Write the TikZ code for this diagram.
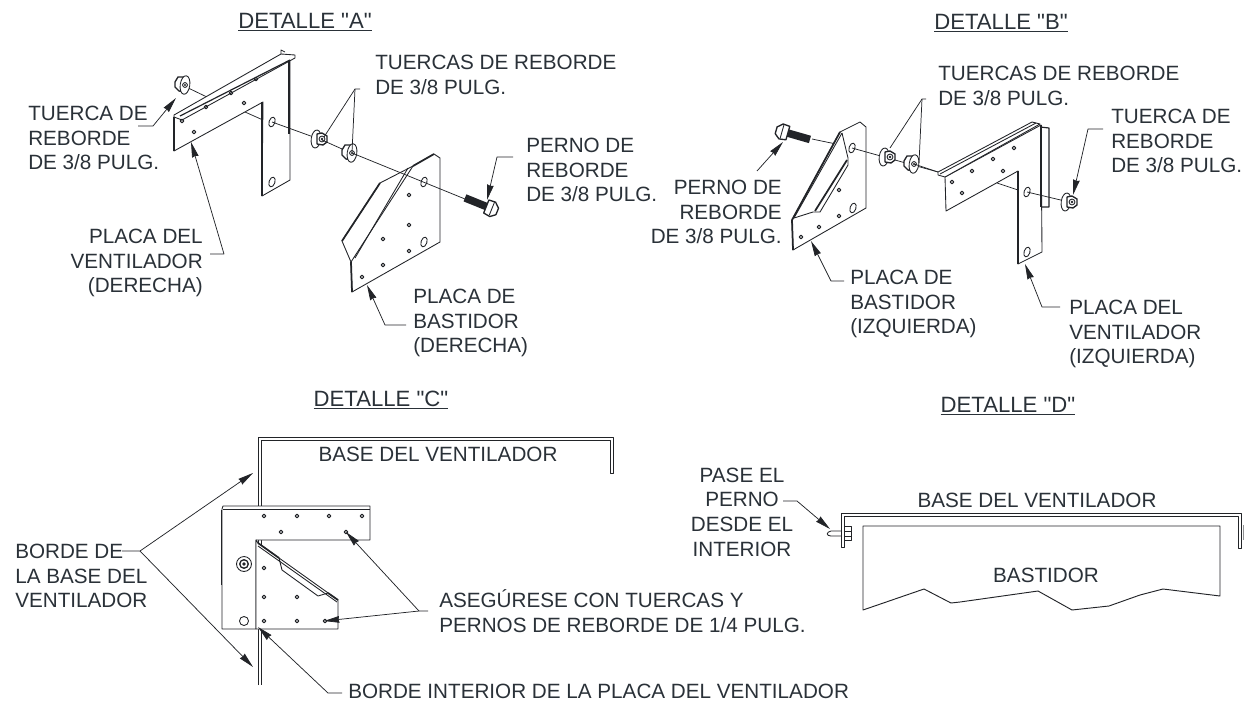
\documentclass[tikz,border=0pt]{standalone}
\usepackage{fontspec}
\setmainfont{Liberation Sans}
\newfontfamily\plainquote{Liberation Sans}
\usetikzlibrary{arrows.meta}
\definecolor{ink}{HTML}{2A3138}
\definecolor{line}{HTML}{222428}
\tikzset{
  lbl/.style={inner sep=0pt,text=ink,font=\fontsize{15.5}{18.45}\selectfont},
  lleft/.style={lbl,anchor=west,align=left},
  lright/.style={lbl,anchor=east,align=right},
  lcenter/.style={lbl,anchor=center,align=center},
  title/.style={inner sep=0pt,text=ink,anchor=center,font=\fontsize{16.6}{18.45}\selectfont},
  part/.style={draw=line,line width=.65pt,line join=round,fill=white},
  edge/.style={draw=line,line width=.65pt,line join=round},
  heavy/.style={draw=line,line width=1.3pt},
  axisline/.style={draw=line,line width=.55pt},
  leader/.style={draw=line,line width=.55pt,line join=round},
  arrowed/.style={leader,-{Stealth[length=11.5pt,width=5pt,inset=.6pt]}},
  pics/nuthexfront/.style={code={
    \draw[part] (-4,0) ellipse [x radius=3.6pt,y radius=6.8pt,rotate=-8];
    \draw[part,line width=1pt] (-3,-5) -- (2,-6) -- (7,-3) -- (7,3) -- (3,6) -- (-3,5) -- cycle;
    \draw[edge] (2,0) circle [radius=2.2pt];
    \fill[line] (2,0) circle [radius=1.1pt];
  }},
  pics/nutwasherfront/.style={code={
    \draw[part,line width=1pt] (-10,-3) -- (-7,-8) -- (-1,-8) -- (-1,7) -- (-6,6) -- (-10,2) -- cycle;
    \draw[part] (0,0) ellipse [x radius=3.6pt,y radius=7pt,rotate=-8];
    \draw[edge] (0,0) circle [radius=1.8pt];
    \fill[line] (0,0) circle [radius=.8pt];
  }},
  pics/bolt/.style={code={
    \fill[line] (-27,-3.8) rectangle (-3,3.8);
    \draw[part,line width=1pt] (-4,-7) -- (3,-7.5) -- (8,-3) -- (8,4) -- (3,8) -- (-4,7) -- cycle;
    \draw[edge] (2,-7) -- (2,7);
  }},
}
\newcommand{\smallholes}[1]{\foreach \hx/\hy in {#1}{\draw[edge,line width=.7pt] (\hx,\hy) circle [radius=1.4pt];}}
\newcommand{\slots}[1]{\foreach \hx/\hy in {#1}{\draw[edge] (\hx,\hy) ellipse [x radius=2.2pt,y radius=3.8pt,rotate=-18];}}
\newcommand{\qt}{{\plainquote "}}
\begin{document}
\begin{tikzpicture}[x=.75pt,y=-.75pt]
\useasboundingbox (0,0) rectangle (1246,700);
\fill[white] (0,0) rectangle (1246,700);

% ---------- titles
\node[title] (ta) at (305,22) {\underline{DETALLE \qt A\qt}};
\node[title] (tb) at (1001,23) {\underline{DETALLE \qt B\qt}};
\node[title] (tc) at (381,400) {\underline{DETALLE \qt C\qt}};
\node[title] (td) at (1008,406) {\underline{DETALLE \qt D\qt}};

% ---------- DETAIL A
\draw[axisline] (182,85) -- (209,98);
\draw[axisline] (245,112) -- (263,120);
\draw[part] (174,117) -- (174,151) -- (263,102) -- (262,196) -- (290,180) -- (290,57) -- (174,117) -- cycle;
\draw[part] (174,115) -- (281,54) -- (295,55) -- (295,58) -- (182,120) -- (174,117) -- cycle;
\draw[edge,line width=.9pt] (180,116) -- (290,60);
\draw[edge] (281,54) -- (281,50) -- (285,52);
\draw[heavy] (289,60) -- (289,134);
\draw[heavy] (262,102) -- (262,196);
\draw[heavy] (174,117) -- (174,151);
\smallholes{182/121,206/107,231/93,256/79,194/132,244/103}
\slots{272/122,272/182}
\pic at (185,85) {nutwasherfront};
\draw[axisline] (272,122) -- (319,139);
\pic at (320,139) {nuthexfront};
\draw[axisline] (322,140) -- (351,153);
\pic at (352,153) {nutwasherfront};
\draw[part] (434,154) -- (440,158) -- (440,242) -- (352,292) -- (351,262) -- (342,241) -- (380,183) -- (413,166) -- cycle;
\draw[edge] (351,262) -- (413,166);
\draw[edge] (355,258) -- (408,168);
\draw[heavy] (342,241) -- (380,183);
\draw[heavy] (351,262) -- (352,292);
\draw[heavy] (413,166) -- (434,154);
\draw[axisline] (352,153) -- (465,199);
\slots{424/182,424/242}
\smallholes{409/195,409/225,409/251,383/239,383/265,362/277}
\pic at (490,208) [rotate=-22] {bolt};

\node[lleft] (a1) at (28,138) {TUERCA DE\\REBORDE\\DE 3/8 PULG.};
\node[lright] (a2) at (203,263) {PLACA DEL\\VENTILADOR\\(DERECHA)};
\node[lleft] (a3) at (413,323) {PLACA DE\\BASTIDOR\\(DERECHA)};
\node[lleft] (a4) at (375,75) {TUERCAS DE REBORDE\\DE 3/8 PULG.};
\node[lleft] (a5) at (526,170) {PERNO DE\\REBORDE\\DE 3/8 PULG.};

\coordinate (a1s) at (138,126); \coordinate (a1e) at (153,126); \coordinate (a1t) at (176,98);
\draw[arrowed] (a1s) -- (a1e) -- (a1t);
\coordinate (a2s) at (210,254); \coordinate (a2e) at (224,254); \coordinate (a2t) at (191,142);
\draw[arrowed] (a2s) -- (a2e) -- (a2t);
\coordinate (a3s) at (406,325); \coordinate (a3e) at (385,325); \coordinate (a3t) at (367,285);
\draw[arrowed] (a3s) -- (a3e) -- (a3t);
\coordinate (a4s) at (360,89); \coordinate (a4e) at (355,89); \coordinate (a4t) at (324,137); \coordinate (a4u) at (352,152);
\draw[leader] (a4t) -- (a4e) -- (a4s);
\draw[leader] (a4e) -- (a4u);
\coordinate (a5s) at (513,157); \coordinate (a5e) at (497,157); \coordinate (a5t) at (487,200);
\draw[arrowed] (a5s) -- (a5e) -- (a5t);

% ---------- DETAIL B
\draw[axisline] (812,139) -- (836,144);
\pic at (784,132) [rotate=-16,xscale=-1] {bolt};
\draw[part] (860,122) -- (866,127) -- (866,208) -- (793,250) -- (792,220) -- (840,132) -- cycle;
\draw[edge] (794,218) -- (842,133);
\draw[edge] (842,133) -- (848,158) -- (848,165) -- (820,212) -- (813,212) -- (794,218);
\draw[heavy] (847,160) -- (815,211);
\draw[heavy] (792,220) -- (840,132);
\draw[heavy] (792,220) -- (793,250);
\smallholes{839/190,839/216,819/227,801/237}
\slots{852/148,853/208}
\draw[axisline] (852,148) -- (938,172);
\pic at (888,157) {nuthexfront};
\pic at (914,164) {nutwasherfront};
\draw[axisline] (914,164) -- (938,172);
\draw[part,line width=.9pt] (1040,127) -- (1049,128) -- (1049,207) -- (1041,207) -- cycle;
\draw[part] (945,177) -- (946,211) -- (1018,171) -- (1018,264) -- (1042,252) -- (1041,125) -- cycle;
\draw[part] (938,172) -- (1032,122) -- (1040,124) -- (945,177) -- (938,175) -- cycle;
\draw[edge] (940,174) -- (1036,123);
\draw[heavy] (1018,171) -- (1018,264);
\draw[heavy] (1041,125) -- (1041,207);
\smallholes{952/182,972/171,993/159,1014/148,962/193,1003/171}
\slots{1027/192,1027/252}
\draw[axisline] (997,183) -- (1018,190);
\draw[axisline] (1027,192) -- (1069,202);
\pic at (1070,202) {nuthexfront};

\node[lleft] (b1) at (938,86) {TUERCAS DE REBORDE\\DE 3/8 PULG.};
\node[lleft] (b2) at (1111,141) {TUERCA DE\\REBORDE\\DE 3/8 PULG.};
\node[lright] (b3) at (782,212) {PERNO DE\\REBORDE\\DE 3/8 PULG.};
\node[lleft] (b4) at (850,304) {PLACA DE\\BASTIDOR\\(IZQUIERDA)};
\node[lleft] (b5) at (1069,334) {PLACA DEL\\VENTILADOR\\(IZQUIERDA)};

\coordinate (b1s) at (926,99); \coordinate (b1e) at (922,99); \coordinate (b1t) at (890,148); \coordinate (b1u) at (919,163);
\draw[leader] (b1t) -- (b1e) -- (b1s);
\draw[leader] (b1e) -- (b1u);
\coordinate (b2s) at (1103,129); \coordinate (b2e) at (1088,129); \coordinate (b2t) at (1073,195);
\draw[arrowed] (b2s) -- (b2e) -- (b2t);
\coordinate (b3s) at (757,171); \coordinate (b3t) at (783,142);
\draw[arrowed] (b3s) -- (b3t);
\coordinate (b4s) at (844,281); \coordinate (b4e) at (831,281); \coordinate (b4t) at (811,241);
\draw[arrowed] (b4s) -- (b4e) -- (b4t);
\coordinate (b5s) at (1060,307); \coordinate (b5e) at (1042,307); \coordinate (b5t) at (1025,264);
\draw[arrowed] (b5s) -- (b5e) -- (b5t);

% ---------- DETAIL C
\draw[edge,fill=none,line width=.7pt] (258,685) -- (258,437) -- (613,437) -- (613,473) -- (610,473) -- (610,440) -- (261,440) -- (261,685);
\draw[part] (223,506) -- (370,506) -- (370,540) -- (256,540) -- (256,629) -- (222,629) -- (222,509) -- cycle;
\draw[edge] (223,509) -- (370,509);
\draw[part] (256,540) -- (258,543) -- (338,600) -- (338,629) -- (256,629) -- cycle;
\draw[edge] (258,546) -- (337,602);
\draw[edge] (279,558) -- (282,570) -- (318,596) -- (328,593);
\draw[heavy] (221.5,510) -- (221.5,585);
\draw[heavy] (258,543) -- (279,558);
\draw[heavy] (328,593) -- (338,600);
\smallholes{264/516,297/516,329/516,362/516,281/532,346/532,264/568,264/597,297/597,264/621,297/621,325/621}
\draw[edge] (244,621) circle [radius=3.4pt];
\draw[edge] (244,564) circle [radius=5.6pt];
\draw[edge,line width=1pt] (244,564) circle [radius=3.2pt];
\fill[line] (244,564) circle [radius=1.4pt];

\node[lcenter] (c1) at (438,454) {BASE DEL VENTILADOR};
\node[lleft] (c2) at (15,576) {BORDE DE\\LA BASE DEL\\VENTILADOR};
\node[lleft] (c3) at (439,611) {ASEGÚRESE CON TUERCAS Y\\PERNOS DE REBORDE DE 1/4 PULG.};
\node[lleft] (c4) at (348,691) {BORDE INTERIOR DE LA PLACA DEL VENTILADOR};

\coordinate (c2s) at (122,551); \coordinate (c2e) at (140,551); \coordinate (c2t) at (253,473); \coordinate (c2u) at (253,667);
\draw[arrowed] (c2s) -- (c2e) -- (c2t);
\draw[arrowed] (c2e) -- (c2u);
\coordinate (c3s) at (428,611); \coordinate (c3e) at (419,611); \coordinate (c3t) at (346,532); \coordinate (c3u) at (324,621);
\draw[arrowed] (c3s) -- (c3e) -- (c3t);
\draw[arrowed] (c3e) -- (c3u);
\coordinate (c4s) at (342,693); \coordinate (c4e) at (328,693); \coordinate (c4t) at (258,627);
\draw[arrowed] (c4s) -- (c4e) -- (c4t);

% ---------- DETAIL D
\draw[edge,line width=.7pt] (863,610) -- (863,526) -- (1220,526) -- (1220,596) -- (1163,589) -- (1140,595) -- (1109,606) -- (1072,610) -- (1038,591) -- (960,602) -- (951,603) -- (924,589) -- cycle;
\draw[edge,line width=.7pt] (841.5,547) -- (841.5,513) -- (1241.5,513) -- (1241.5,548) -- (1238.5,548) -- (1238.5,516.5) -- (844.5,516.5) -- (844.5,547) -- cycle;
\draw[edge] (844.5,526) -- (851,526) -- (851,540) -- (844.5,540);
\draw[edge] (844.5,531) -- (851,531);
\draw[edge] (844.5,536) -- (851,536);
\draw[edge] (841,531) -- (831,531) .. controls (826,532) and (826,536) .. (831,536) -- (841,536);
\draw[draw=line!50,line width=.4pt] (1243,525) -- (1243,540);

\node[lcenter] (d1) at (742,512) {PASE EL\\PERNO\\DESDE EL\\INTERIOR};
\node[lcenter] (d2) at (1037,500) {BASE DEL VENTILADOR};
\node[lcenter] (d3) at (1046,575) {BASTIDOR};

\coordinate (d1s) at (783,501); \coordinate (d1e) at (797,501); \coordinate (d1t) at (830,529);
\draw[arrowed] (d1s) -- (d1e) -- (d1t);
\end{tikzpicture}
\end{document}
